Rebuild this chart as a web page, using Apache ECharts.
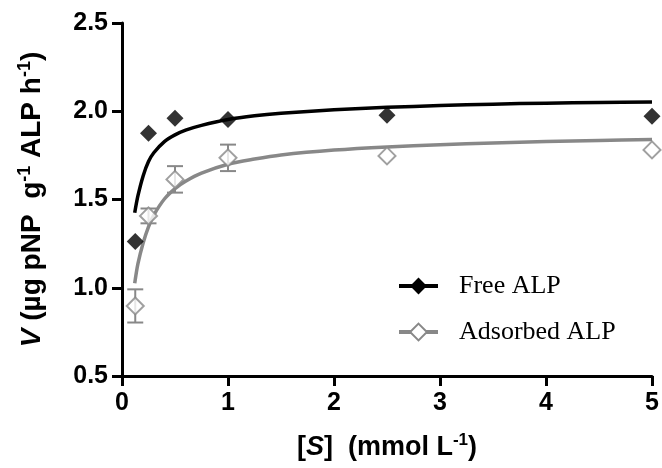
<!DOCTYPE html>
<html><head><meta charset="utf-8">
<script src="https://cdn.jsdelivr.net/npm/echarts@6/dist/echarts.min.js"></script>
<style>html,body{margin:0;padding:0;background:#fff}#c{width:662px;height:468px}</style>
</head><body><div id="c"></div>
<script>
// ---- data ----
const xTicks = [0, 1, 2, 3, 4, 5];
const yTicks = [0.5, 1.0, 1.5, 2.0, 2.5];
const substrate = [0.125, 0.25, 0.5, 1, 2.5, 5];
const freeV = [1.262, 1.876, 1.961, 1.953, 1.978, 1.972];
const adsorbedV = [0.897, 1.407, 1.614, 1.736, 1.747, 1.781];
const adsorbedErr = [0.094, 0.042, 0.075, 0.075, 0, 0];
// fitted curves, values
const curveX = [0.12, 0.15, 0.2, 0.25, 0.3, 0.4, 0.5, 0.6, 0.75, 1.0, 1.25, 1.5, 2.0, 2.5, 3.0, 3.5, 4.0, 4.5, 5.0];
const freeCurveV = [1.425, 1.52, 1.635, 1.715, 1.765, 1.828, 1.866, 1.893, 1.920, 1.953, 1.974, 1.988, 2.008, 2.022, 2.032, 2.040, 2.046, 2.050, 2.053];
const adsCurveV = [1.025, 1.135, 1.255, 1.345, 1.412, 1.503, 1.562, 1.604, 1.650, 1.700, 1.729, 1.752, 1.780, 1.798, 1.810, 1.820, 1.828, 1.834, 1.840];
const seriesNames = ['Free ALP', 'Adsorbed ALP'];

const BLACK = '#000';
const GRAY = '#888888';
const FONT = 'Liberation Sans';

const zip = (a, b) => a.map((v, i) => [v, b[i]]);
const errData = substrate.map((x, i) => [x, adsorbedV[i] - adsorbedErr[i], adsorbedV[i] + adsorbedErr[i]])
  .filter((d, i) => adsorbedErr[i] > 0);

const chart = echarts.init(document.getElementById('c'), null, {renderer: 'canvas'});
chart.setOption({
  animation: false,
  backgroundColor: '#fff',
  grid: {left: 122, right: 10, top: 23, bottom: 89, containLabel: false},
  legend: {
    orient: 'vertical',
    left: 392, top: 268,
    itemWidth: 39, itemHeight: 21, itemGap: 20,
    textStyle: {fontFamily: 'Liberation Serif', fontSize: 26, color: '#000', padding: [0, 0, 0, 16], lineHeight: 26},
    data: [
      {name: seriesNames[0], itemStyle: {color: BLACK, borderWidth: 0}, lineStyle: {color: BLACK, width: 4}},
      {name: seriesNames[1], itemStyle: {color: '#fff', borderColor: GRAY, borderWidth: 2}, lineStyle: {color: GRAY, width: 4}}
    ]
  },
  xAxis: {
    type: 'value', min: xTicks[0], max: xTicks[xTicks.length - 1], interval: 1,
    axisLine: {onZero: false, lineStyle: {color: '#000', width: 3}},
    axisTick: {length: 10, lineStyle: {width: 3, color: '#000'}},
    splitLine: {show: false},
    axisLabel: {margin: 15, color: '#000', fontFamily: FONT, fontWeight: 'bold', fontSize: 25},
    name: '[{i|S}]  (mmol L{sup|-1})',
    nameLocation: 'middle', nameGap: 56,
    nameTextStyle: {
      fontFamily: FONT, fontWeight: 'bold', fontSize: 27, color: '#000', lineHeight: 31,
      rich: {
        i: {fontFamily: FONT, fontWeight: 'bold', fontStyle: 'italic', fontSize: 27, lineHeight: 31},
        sup: {fontFamily: FONT, fontWeight: 'bold', fontSize: 17, lineHeight: 31, verticalAlign: 'top'}
      }
    }
  },
  yAxis: {
    type: 'value', min: yTicks[0], max: yTicks[yTicks.length - 1], interval: 0.5,
    axisLine: {show: true, onZero: false, lineStyle: {color: '#000', width: 3}},
    axisTick: {show: true, length: 10, lineStyle: {width: 3, color: '#000'}},
    splitLine: {show: false},
    axisLabel: {margin: 14, color: '#000', fontFamily: FONT, fontWeight: 'bold', fontSize: 25,
      formatter: v => v.toFixed(1)},
    name: '{i|V} (µg pNP  g{sup|-1} ALP h{sup|-1})',
    nameLocation: 'middle', nameGap: 74,
    nameTextStyle: {
      fontFamily: FONT, fontWeight: 'bold', fontSize: 28, color: '#000', lineHeight: 32,
      rich: {
        i: {fontFamily: FONT, fontWeight: 'bold', fontStyle: 'italic', fontSize: 28, lineHeight: 32},
        sup: {fontFamily: FONT, fontWeight: 'bold', fontSize: 18, lineHeight: 32, verticalAlign: 'top'}
      }
    }
  },
  series: [
    {
      name: seriesNames[0], type: 'line', data: zip(curveX, freeCurveV),
      smooth: 0.3, showSymbol: false, symbol: 'diamond', symbolSize: 17,
      itemStyle: {color: BLACK}, lineStyle: {color: BLACK, width: 3.5}, z: 2, silent: true
    },
    {
      name: seriesNames[1], type: 'line', data: zip(curveX, adsCurveV),
      smooth: 0.3, showSymbol: false, symbol: 'diamond', symbolSize: 17,
      itemStyle: {color: '#fff', borderColor: GRAY, borderWidth: 2}, lineStyle: {color: GRAY, width: 3.5}, z: 2, silent: true
    },
    {
      name: seriesNames[1], type: 'custom', data: errData, z: 3,
      encode: {x: 0, y: [1, 2]},
      renderItem: (params, api) => {
        const x = api.value(0), lo = api.value(1), hi = api.value(2);
        const p1 = api.coord([x, hi]), p2 = api.coord([x, lo]);
        const w = 8;
        const style = {stroke: GRAY, lineWidth: 2, fill: null};
        return {type: 'group', children: [
          {type: 'line', shape: {x1: p1[0], y1: p1[1], x2: p2[0], y2: p2[1]}, style},
          {type: 'line', shape: {x1: p1[0] - w, y1: p1[1], x2: p1[0] + w, y2: p1[1]}, style},
          {type: 'line', shape: {x1: p2[0] - w, y1: p2[1], x2: p2[0] + w, y2: p2[1]}, style}
        ]};
      }
    },
    {
      name: seriesNames[1], type: 'scatter', data: zip(substrate, adsorbedV), z: 4,
      symbol: 'diamond', symbolSize: 17,
      itemStyle: {color: '#fff', borderColor: GRAY, borderWidth: 2}
    },
    {
      name: seriesNames[0], type: 'scatter', data: zip(substrate, freeV), z: 5,
      symbol: 'diamond', symbolSize: 17,
      itemStyle: {color: BLACK}
    }
  ]
});
</script>
</body></html>
